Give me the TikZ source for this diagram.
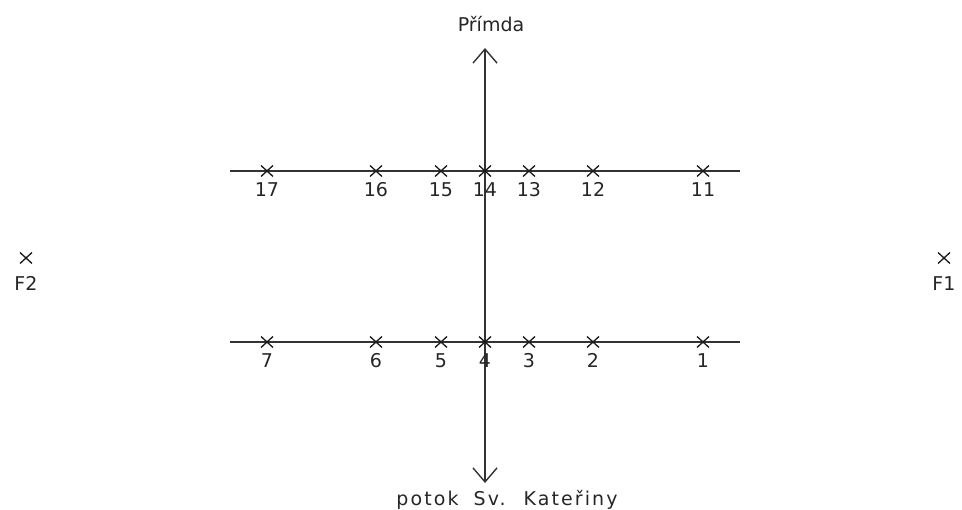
\documentclass[tikz,border=0pt]{standalone}
\usepackage{fontspec}
\setmainfont{DejaVu Sans}
\usetikzlibrary{arrows.meta,calc}
\tikzset{
  axis/.style={line width=1.4pt, draw=black!80},
  openarrow/.style={-{Straight Barb[length=14pt,width=24pt,line width=1.4pt]}},
  mark cross/.style={line width=1.3pt, draw=black!90},
  lbl/.style={font=\fontsize{19}{19}\selectfont, inner sep=0pt, text=black!85, anchor=base},
}
\begin{document}
\begin{tikzpicture}[x=1pt,y=-1pt]
\useasboundingbox (0,0) rectangle (962,510);
% axes
\coordinate (vtop) at (485,48);
\coordinate (vbot) at (485,483);
\coordinate (vmid) at (485,256);
\draw[axis,openarrow] (vmid) -- (vtop);
\draw[axis,openarrow] (vmid) -- (vbot);
\coordinate (hta) at (230,171);
\coordinate (htb) at (740,171);
\coordinate (hba) at (230,342);
\coordinate (hbb) at (740,342);
\draw[axis] (hta) -- (htb);
\draw[axis] (hba) -- (hbb);
\node[lbl] (ttop) at (491,32) {Přímda};
\node[lbl,font=\fontsize{19}{19}\selectfont\addfontfeatures{LetterSpace=11}] (tbot) at (507,506) {potok\hspace{7pt} Sv.\hspace{7pt} Kateřiny};
% crosses
\newcommand{\xmark}[5]{%
  \coordinate (#1) at (#2,#3);
  \draw[mark cross] ($(#1)+(-6,-5.5)$) -- ($(#1)+(6,5.5)$);
  \draw[mark cross] ($(#1)+(-6,5.5)$) -- ($(#1)+(6,-5.5)$);
  \node[lbl] (#1l) at ($(#1)+(0,#5)$) {#4};
}
\xmark{p17}{267}{171}{17}{26}
\xmark{p16}{376}{171}{16}{26}
\xmark{p15}{441}{171}{15}{26}
\xmark{p14}{485}{171}{14}{26}
\xmark{p13}{529}{171}{13}{26}
\xmark{p12}{593}{171}{12}{26}
\xmark{p11}{703}{171}{11}{26}
\xmark{p7}{267}{342}{7}{26}
\xmark{p6}{376}{342}{6}{26}
\xmark{p5}{441}{342}{5}{26}
\xmark{p4}{485}{342}{4}{26}
\xmark{p3}{529}{342}{3}{26}
\xmark{p2}{593}{342}{2}{26}
\xmark{p1}{703}{342}{1}{26}
\xmark{f2}{26}{258}{F2}{33}
\xmark{f1}{944}{258}{F1}{33}
\end{tikzpicture}
\end{document}
